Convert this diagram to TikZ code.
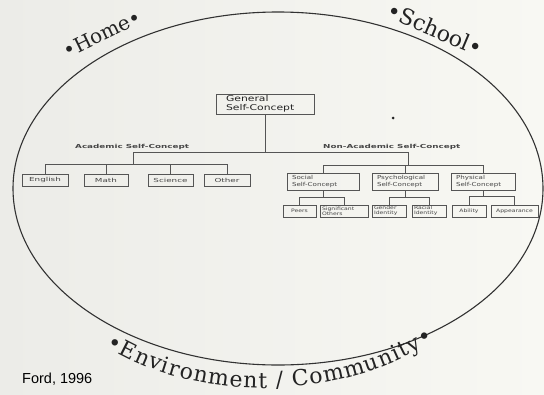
\documentclass[tikz,border=0pt]{standalone}
\usepackage{fontspec}
\usetikzlibrary{decorations.text}
\newfontfamily\bxa{DejaVu Sans}[FakeStretch=1.6]
\newfontfamily\bxb{DejaVu Sans}[FakeStretch=1.3]
\newfontfamily\bxg{DejaVu Sans}[FakeStretch=1.35]
\newfontfamily\arcf{DejaVu Serif}
\newfontfamily\fordf{Liberation Sans}
\definecolor{bgl}{RGB}{236,236,232}
\definecolor{bgr}{RGB}{248,248,243}
\definecolor{linec}{RGB}{85,85,85}
\definecolor{textc}{RGB}{70,70,70}
\definecolor{ellc}{RGB}{50,50,50}
\definecolor{labc}{RGB}{35,35,35}
\tikzset{
  box/.style={draw=linec, line width=0.9pt, inner ysep=0pt, text=textc},
  lvla/.style={box, inner xsep=2pt, minimum height=12pt, align=center, font=\bxa\fontsize{5.5}{6}\selectfont},
  lvlb/.style={box, inner xsep=5pt, minimum height=17pt, align=left, font=\bxb\fontsize{5.5}{6.5}\selectfont},
  lvlc/.style={box, inner xsep=2pt, minimum height=12pt, align=center, font=\bxb\fontsize{4.7}{5}\selectfont},
  lvlcl/.style={lvlc, align=left},
  genbox/.style={box, inner xsep=10pt, minimum height=20pt, align=left, text=labc, font=\bxg\fontsize{8}{8.5}\selectfont},
  catlab/.style={inner sep=0pt, text=textc, font=\bxa\bfseries\fontsize{5.5}{6}\selectfont},
  conn/.style={draw=linec, line width=0.8pt},
  arclab/.style={inner sep=0pt, text=labc, font=\arcf\fontsize{20}{22}\selectfont},
}
\begin{document}
\begin{tikzpicture}[x=1pt, y=-1pt]
\useasboundingbox (0,0) rectangle (544,394);
\shade[left color=bgl, right color=bgr] (0,0) rectangle (544,394);

% outer ellipse
\draw[ellc, line width=1.1pt] (278,188.5) ellipse [x radius=265, y radius=176.5];

% context labels
\node[arclab, rotate=26] (home) at (102,34) {•Home•};
\node[arclab, rotate=-23, font=\arcf\fontsize{22}{24}\selectfont] (school) at (435,29) {•School•};
\path[decorate, decoration={text along path, text align=fit to path,
  text={|\arcf\fontsize{22}{24}\selectfont\color{labc}|•Environment / Community•}}]
  (106,346) .. controls (195,403) and (340,403) .. (434,340);
\node[inner sep=0pt, anchor=base west, font=\fordf\fontsize{14.5}{16}\selectfont, text=black] (ford) at (22,383) {Ford, 1996};

% scan speck
\fill[labc] (393,118) circle (1.5);

% general
\node[genbox, text width=78pt] (gen) at (265,104) {General\\Self-Concept};

\node[catlab, anchor=base west] (acadlab) at (75,148) {Academic Self-Concept};
\node[catlab, anchor=base west] (nonlab) at (323,148) {Non-Academic Self-Concept};

% academic boxes
\node[lvla, text width=42pt] (english) at (45,180) {English};
\node[lvla, text width=40pt] (math) at (106,180) {Math};
\node[lvla, text width=41pt] (science) at (170.5,180) {Science};
\node[lvla, text width=42pt] (other) at (227,180) {Other};

% non-academic boxes
\node[lvlb, text width=62pt] (social) at (323,181.5) {Social\\Self-Concept};
\node[lvlb, text width=56pt] (psych) at (405,181.5) {Psychological\\Self-Concept};
\node[lvlb, text width=54pt] (phys) at (483,181.5) {Physical\\Self-Concept};

\node[lvlc, text width=29pt] (peers) at (299.5,211) {Peers};
\node[lvlcl, text width=44pt] (sig) at (344,211) {Significant\\Others};
\node[lvlcl, text width=30pt] (gender) at (389,211) {Gender\\Identity};
\node[lvlcl, text width=30pt] (racial) at (429,211) {Racial\\Identity};
\node[lvlc, text width=30pt] (ability) at (469,211) {Ability};
\node[lvlc, text width=43pt] (appear) at (514.5,211) {Appearance};

% hubs
\coordinate (top) at (265,152);
\coordinate (A) at (133,152);
\coordinate (N) at (408,152);
\coordinate (Ab) at (133,164);
\coordinate (Nb) at (408,165);
\coordinate (Sb) at (323,197);
\coordinate (Pb) at (405,197);
\coordinate (Hb) at (483,196);

% connectors
\draw[conn] (gen.south) -- (top);
\draw[conn] (A) -- (N);
\draw[conn] (A) -- (Ab);
\draw[conn] (english.north) |- (Ab);
\draw[conn] (other.north) |- (Ab);
\draw[conn] (math.north) -- (math.north |- Ab);
\draw[conn] (science.north) -- (science.north |- Ab);

\draw[conn] (N) -- (Nb);
\draw[conn] (social.north) |- (Nb);
\draw[conn] (phys.north) |- (Nb);
\draw[conn] (psych.north) -- (psych.north |- Nb);

\draw[conn] (social.south) -- (Sb);
\draw[conn] (peers.north) |- (Sb);
\draw[conn] (sig.north) |- (Sb);
\draw[conn] (psych.south) -- (Pb);
\draw[conn] (gender.north) |- (Pb);
\draw[conn] (racial.north) |- (Pb);
\draw[conn] (phys.south) -- (Hb);
\draw[conn] (ability.north) |- (Hb);
\draw[conn] (appear.north) |- (Hb);
\end{tikzpicture}
\end{document}
